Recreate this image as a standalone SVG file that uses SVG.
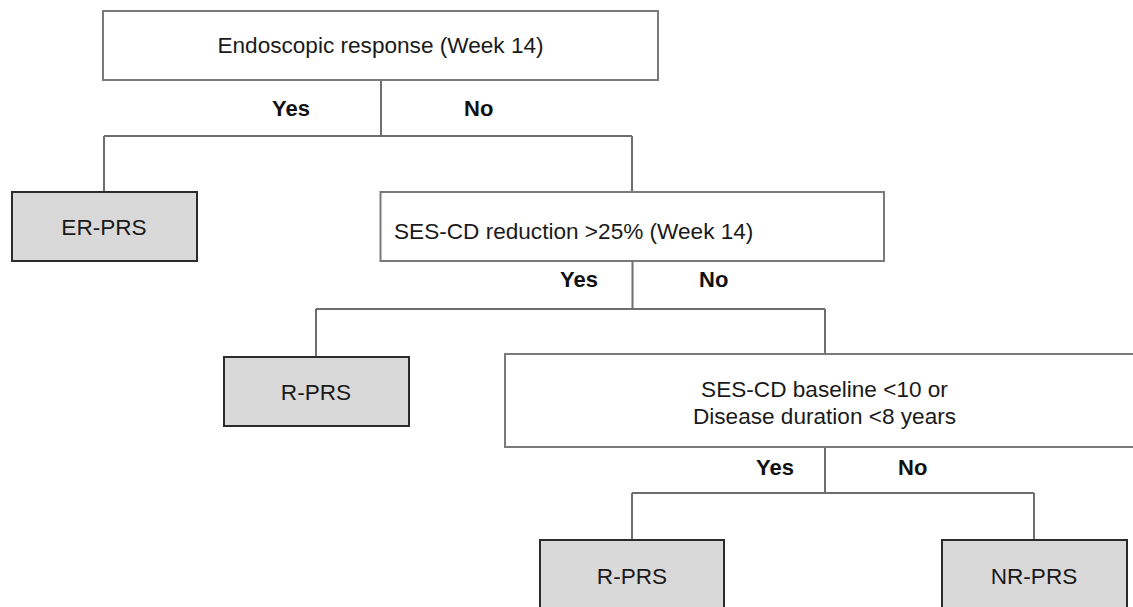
<svg xmlns="http://www.w3.org/2000/svg" width="1133" height="607" viewBox="0 0 1133 607">
<style>
.q{fill:#ffffff;stroke:#7a7a7a;stroke-width:2}
.r{fill:#d9d9d9;stroke:#2b2b2b;stroke-width:2}
.t{font-family:"Liberation Sans",Arial,sans-serif;font-size:22.6px;fill:#1a1a1a}
.c{text-anchor:middle}
.b{font-family:"Liberation Sans",Arial,sans-serif;font-size:22px;font-weight:bold;fill:#111111}
.ln{fill:none;stroke:#6e6e6e;stroke-width:2}
</style>
<rect width="1133" height="607" fill="#ffffff"/>
<g id="connectors">
<path class="ln" d="M381 80V136M104 136H632M104 136V192M632 136V192"/>
<path class="ln" d="M632.5 261V309M316 309H825M316 309V357M825 309V354"/>
<path class="ln" d="M825 447V493M632 493H1034M632 493V540M1034 493V540"/>
</g>
<g id="labels">
<text class="b" x="272" y="115.5">Yes</text>
<text class="b" x="464" y="115.5">No</text>
<text class="b" x="560" y="287">Yes</text>
<text class="b" x="699" y="287">No</text>
<text class="b" x="756" y="475">Yes</text>
<text class="b" x="898" y="475">No</text>
</g>
<g id="n_endo">
<rect class="q" x="103" y="11" width="555" height="69"/>
<text class="t c" x="380.5" y="53">Endoscopic response (Week 14)</text>
</g>
<g id="n_erprs">
<rect class="r" x="12" y="192" width="185" height="69"/>
<text class="t c" x="104" y="235">ER-PRS</text>
</g>
<g id="n_sesred">
<rect class="q" x="380.5" y="192" width="503.5" height="69"/>
<text class="t" x="394" y="239">SES-CD reduction &gt;25% (Week 14)</text>
</g>
<g id="n_rprs1">
<rect class="r" x="224" y="357" width="185" height="69"/>
<text class="t c" x="316" y="400">R-PRS</text>
</g>
<g id="n_sesbase">
<rect class="q" x="505" y="354" width="640" height="93"/>
<text class="t c" x="824.5" y="396.5">SES-CD baseline &lt;10 or</text>
<text class="t c" x="824.5" y="424">Disease duration &lt;8 years</text>
</g>
<g id="n_rprs2">
<rect class="r" x="540" y="540" width="184" height="80"/>
<text class="t c" x="632" y="584">R-PRS</text>
</g>
<g id="n_nrprs">
<rect class="r" x="942" y="540" width="185" height="80"/>
<text class="t c" x="1034" y="584">NR-PRS</text>
</g>
</svg>
